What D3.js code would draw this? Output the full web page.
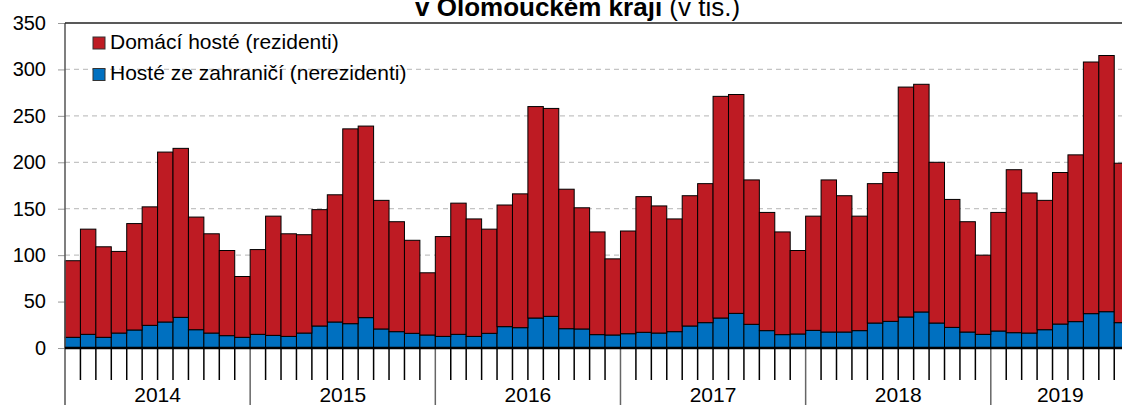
<!DOCTYPE html>
<html>
<head>
<meta charset="utf-8">
<script src="https://cdn.jsdelivr.net/npm/d3@7"></script>
<style>
  body { margin: 0; background: #fff; overflow: hidden; }
  svg { display: block; font-family: "Liberation Sans", Arial, sans-serif; }
</style>
</head>
<body>
<div id="chart"></div>
<script>
// years and months shown (2019 runs to September)
const years = [2014, 2015, 2016, 2017, 2018, 2019];
const monthsPerYear = [12, 12, 12, 12, 12, 9];

// total guests (thousands) = residents + non-residents, read off the bar tops
const totals = [
  94, 128, 109, 104, 134, 152, 211, 215, 141, 123, 105, 77,
  106, 142, 123, 122, 149, 165, 236, 239, 159, 136, 116, 81,
  120, 156, 139, 128, 154, 166, 260, 258, 171, 151, 125, 96,
  126, 163, 153, 139, 164, 177, 271, 273, 181, 146, 125, 105,
  142, 181, 164, 142, 177, 189, 281, 284, 200, 160, 136, 100,
  146, 192, 167, 159, 189, 208, 308, 315, 199
];
// non-residents (blue segment)
const foreign = [
  11.5, 14.7, 11.5, 16.1, 19.4, 24.4, 28, 33, 19.7, 16.1, 13.3, 11.5,
  14.7, 13.6, 12.5, 16.1, 23.7, 28, 26.2, 32.7, 20.5, 17.6, 15.8, 14,
  12.5, 14.7, 12.5, 15.8, 23, 21.9, 32.3, 34.1, 20.8, 20.5, 14.4, 14,
  15.4, 16.9, 16.1, 17.6, 23.7, 27.3, 32.3, 37.3, 25.5, 18.7, 14.4, 15.1,
  19, 17.2, 17.2, 18.7, 26.9, 28.7, 33.4, 38.8, 26.9, 22.2, 17.2, 14.7,
  18.3, 16.5, 16.1, 19.7, 25.8, 28.4, 37, 39.1, 27.3
];
const yTicks = [0, 50, 100, 150, 200, 250, 300, 350];
const seriesNames = ["Domácí hosté (rezidenti)", "Hosté ze zahraničí (nerezidenti)"];

const width = 1122, height = 405;
const margin = { top: 23, left: 65 };
const baseY = 348;
const step = 15.43;
const red = "#be1b23", blue = "#0070c0";

const data = totals.map((t, i) => ({ i, total: t, foreign: foreign[i], domestic: t - foreign[i] }));

const x = d3.scaleBand()
  .domain(data.map(d => d.i))
  .range([margin.left, margin.left + data.length * step])
  .padding(0);

const y = d3.scaleLinear()
  .domain([0, 350])
  .range([baseY, margin.top]);

const svg = d3.select("#chart").append("svg")
  .attr("width", width)
  .attr("height", height);

// dashed grid
svg.append("g")
  .selectAll("line")
  .data(yTicks.filter(t => t > 0 && t < 350))
  .join("line")
  .attr("x1", margin.left).attr("x2", width)
  .attr("y1", d => y(d)).attr("y2", d => y(d))
  .attr("stroke", "#c4c4c4")
  .attr("stroke-width", 1.2)
  .attr("stroke-dasharray", "5,4");

// y axis
const yAxis = d3.axisLeft(y).tickValues(yTicks).tickSize(7).tickPadding(12);
const gy = svg.append("g")
  .attr("transform", `translate(${margin.left},0)`)
  .call(yAxis);
gy.select(".domain").remove();
gy.selectAll(".tick line").attr("stroke", "#999");
gy.selectAll(".tick text")
  .attr("font-size", 20)
  .attr("font-family", "Liberation Sans, Arial, sans-serif")
  .attr("fill", "#000");

// bars: blue (non-residents) at bottom, red on top
svg.append("g")
  .selectAll("rect")
  .data(data)
  .join("rect")
  .attr("x", d => x(d.i))
  .attr("y", d => y(d.foreign))
  .attr("width", x.bandwidth())
  .attr("height", d => baseY - y(d.foreign))
  .attr("fill", blue)
  .attr("stroke", "#000")
  .attr("stroke-width", 1);

svg.append("g")
  .selectAll("rect")
  .data(data)
  .join("rect")
  .attr("x", d => x(d.i))
  .attr("y", d => y(d.total))
  .attr("width", x.bandwidth())
  .attr("height", d => y(d.foreign) - y(d.total))
  .attr("fill", red)
  .attr("stroke", "#000")
  .attr("stroke-width", 1);

// category ticks under the x axis
let start = 0;
const yearInfo = years.map((yr, k) => {
  const s = start;
  start += monthsPerYear[k];
  return { yr, s, n: monthsPerYear[k] };
});
const boundaries = d3.range(0, data.length + 1);
const isYearStart = new Set(yearInfo.map(d => d.s));

svg.append("g")
  .selectAll("line")
  .data(boundaries.filter(b => !isYearStart.has(b)))
  .join("line")
  .attr("x1", b => margin.left + b * step).attr("x2", b => margin.left + b * step)
  .attr("y1", baseY).attr("y2", 380)
  .attr("stroke", "#000")
  .attr("stroke-width", 1.5);

svg.append("g")
  .selectAll("line")
  .data(yearInfo.filter(d => d.s > 0))
  .join("line")
  .attr("x1", d => margin.left + d.s * step).attr("x2", d => margin.left + d.s * step)
  .attr("y1", baseY).attr("y2", height)
  .attr("stroke", "#666")
  .attr("stroke-width", 1.5);

svg.append("g")
  .selectAll("text")
  .data(yearInfo)
  .join("text")
  .attr("x", d => margin.left + (d.s + d.n / 2) * step)
  .attr("y", 402)
  .attr("text-anchor", "middle")
  .attr("font-size", 21)
  .text(d => d.yr);

// left axis line, top frame, zero line
svg.append("line")
  .attr("x1", margin.left).attr("x2", margin.left)
  .attr("y1", margin.top).attr("y2", height)
  .attr("stroke", "#555").attr("stroke-width", 1.5);
svg.append("line")
  .attr("x1", margin.left).attr("x2", width)
  .attr("y1", margin.top).attr("y2", margin.top)
  .attr("stroke", "#222").attr("stroke-width", 1.5);
svg.append("line")
  .attr("x1", margin.left).attr("x2", width)
  .attr("y1", baseY).attr("y2", baseY)
  .attr("stroke", "#000").attr("stroke-width", 2.5);

// legend
const legend = svg.append("g").selectAll("g")
  .data(seriesNames)
  .join("g")
  .attr("transform", (d, i) => `translate(93,${37 + i * 31.5})`);
legend.append("rect")
  .attr("width", 12).attr("height", 12)
  .attr("fill", (d, i) => i === 0 ? red : blue)
  .attr("stroke", "#333").attr("stroke-width", 1);
legend.append("text")
  .attr("x", 17).attr("y", 11.5)
  .attr("font-size", 21)
  .text(d => d);

// title (upper line is outside the frame)
const title = svg.append("text")
  .attr("x", 415).attr("y", 16)
  .attr("font-size", 26);
title.append("tspan").attr("font-weight", "bold").text("v Olomouckém kraji");
title.append("tspan").text(" (v tis.)");
</script>
</body>
</html>
